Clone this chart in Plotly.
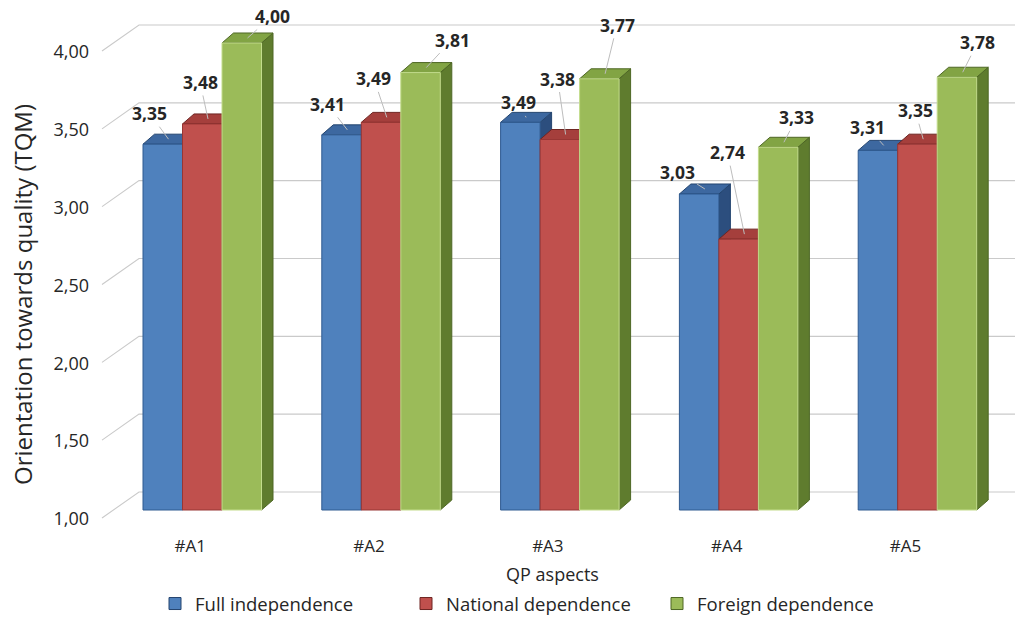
import plotly.graph_objects as go

# ---- data -------------------------------------------------------------
categories = ["#A1", "#A2", "#A3", "#A4", "#A5"]
series_names = ["Full independence", "National dependence", "Foreign dependence"]
full_independence = [3.35, 3.41, 3.49, 3.03, 3.31]
national_dependence = [3.48, 3.49, 3.38, 2.74, 3.35]
foreign_dependence = [4.00, 3.81, 3.77, 3.33, 3.78]
y_ticks = [1.0, 1.5, 2.0, 2.5, 3.0, 3.5, 4.0]
y_base = 1.0
y_title = "Orientation towards quality (TQM)"
x_title = "QP aspects"

series_values = [full_independence, national_dependence, foreign_dependence]

# ---- styling ----------------------------------------------------------
FONT = "Open Sans"
TEXT = "#262626"
face_colors = [
    dict(front="#4F81BD", top="#3D68A0", side="#2C4E7E", edge="#24456F", front_edge="#2F5A90"),
    dict(front="#C0504D", top="#A53F3C", side="#7E2C2A", edge="#6E2522", front_edge="#973634"),
    dict(front="#9BBB59", top="#82A444", side="#5F7C2E", edge="#4E6725", front_edge="#C3DC8C"),
]
# data-label placement (pixels, relative to centre of each bar's top face)
label_shift = [
    [(-19, -26), (-20, -26), (-8, -15), (-27, -17), (-16, -18)],
    [(-8, -37), (-13, -39), (-8, -56), (-17, -82), (-8, -29)],
    [(25, -22), (26, -28), (12, -49), (13, -25), (15, -30)],
]

# ---- pseudo-3D geometry ------------------------------------------------
W, H = 1019, 618
M_L, M_R, M_T, M_B = 90, 4, 0, 88
PX_X = 178.8          # pixels per category step
PX_Y = 155.67         # pixels per value unit
plot_w = W - M_L - M_R
plot_h = H - M_T - M_B
X_MIN = -(202.25 - M_L) / PX_X
X_MAX = X_MIN + plot_w / PX_X
Y_MIN = y_base - 20 / PX_Y
Y_MAX = Y_MIN + plot_h / PX_Y


def px_x(p):
    return p / PX_X


def px_y(p):
    return p / PX_Y


BAR_W = px_x(39.5)
DEPTH_X = px_x(11.5)
DEPTH_Y = px_y(10)

fig = go.Figure()

# back-wall gridlines with their receding floor segment
gx, gy = [], []
for v in y_ticks:
    gx += [X_MIN + px_x(12), X_MIN + px_x(49), X_MAX, None]
    gy += [v - px_y(8), v + px_y(18), v + px_y(18), None]
fig.add_trace(go.Scatter(x=gx, y=gy, mode="lines",
                         line=dict(color="#CACACA", width=1.1),
                         hoverinfo="skip", showlegend=False))

# bars: side, top and front faces, painted left to right
for j, (name, vals) in enumerate(zip(series_names, series_values)):
    c = face_colors[j]
    sx, sy, tx, ty, fx, fy = [], [], [], [], [], []
    for i, v in enumerate(vals):
        x0 = i + (j - 1.5) * BAR_W
        x1 = x0 + BAR_W
        sx += [x1, x1, x1 + DEPTH_X, x1 + DEPTH_X, x1, None]
        sy += [y_base, v, v + DEPTH_Y, y_base + DEPTH_Y, y_base, None]
        tx += [x0, x1, x1 + DEPTH_X, x0 + DEPTH_X, x0, None]
        ty += [v, v, v + DEPTH_Y, v + DEPTH_Y, v, None]
        fx += [x0, x1, x1, x0, x0, None]
        fy += [y_base, y_base, v, v, y_base, None]
    fig.add_trace(go.Scatter(x=sx, y=sy, mode="lines", fill="toself",
                             fillcolor=c["side"], line=dict(color=c["edge"], width=1),
                             hoverinfo="skip", showlegend=False))
    fig.add_trace(go.Scatter(x=tx, y=ty, mode="lines", fill="toself",
                             fillcolor=c["top"], line=dict(color=c["edge"], width=1),
                             hoverinfo="skip", showlegend=False))
    fig.add_trace(go.Scatter(x=fx, y=fy, mode="lines", fill="toself",
                             fillcolor=c["front"], line=dict(color=c["front_edge"], width=1),
                             name=name, hoverinfo="name", showlegend=False))

# legend entries
for j, name in enumerate(series_names):
    fig.add_trace(go.Bar(x=[None], y=[None], name=name,
                         marker=dict(color=face_colors[j]["front"],
                                     line=dict(color=face_colors[j]["edge"], width=1))))

# value labels with leader lines
for j, vals in enumerate(series_values):
    for i, v in enumerate(vals):
        x_top = i + (j - 1.5) * BAR_W + BAR_W / 2 + DEPTH_X / 2
        y_top = v + DEPTH_Y / 2
        ox, oy = label_shift[j][i]
        fig.add_annotation(x=x_top, y=y_top, ax=ox, ay=oy,
                           text=f"{v:.2f}".replace(".", ","),
                           showarrow=True, arrowhead=0, arrowwidth=1,
                           arrowcolor="#BDBDBD", standoff=0,
                           font=dict(family=FONT, size=17.5, color=TEXT, weight="bold"))

# value-axis title
fig.add_annotation(text=y_title, textangle=-90, showarrow=False,
                   xref="paper", yref="paper",
                   x=(22 - M_L) / plot_w, y=(plot_h - 295) / plot_h,
                   xanchor="center", yanchor="middle",
                   font=dict(family=FONT, size=24, color=TEXT))

fig.update_layout(
    width=W, height=H,
    margin=dict(l=M_L, r=M_R, t=M_T, b=M_B, autoexpand=False),
    paper_bgcolor="white", plot_bgcolor="white",
    separators=",.",
    font=dict(family=FONT, color=TEXT),
    showlegend=True,
    legend=dict(orientation="h", x=(155 - M_L) / plot_w, xanchor="left",
                y=-(604 - plot_h) / plot_h, yanchor="middle",
                entrywidth=206, entrywidthmode="pixels",
                font=dict(size=18.5, color=TEXT), traceorder="normal"),
    xaxis=dict(range=[X_MIN, X_MAX], tickvals=list(range(len(categories))),
               ticktext=categories, showgrid=False, zeroline=False, showline=False,
               ticks="", ticklabelshift=-12, ticklabelstandoff=4, tickfont=dict(size=17),
               automargin=False,
               title=dict(text=x_title, font=dict(size=18), standoff=12)),
    yaxis=dict(range=[Y_MIN, Y_MAX], tickvals=y_ticks, tickformat=".2f",
               showgrid=False, zeroline=False, showline=False, ticks="",
               ticklabelshift=9, tickfont=dict(size=18), automargin=False),
)

fig.write_html("out.html")
